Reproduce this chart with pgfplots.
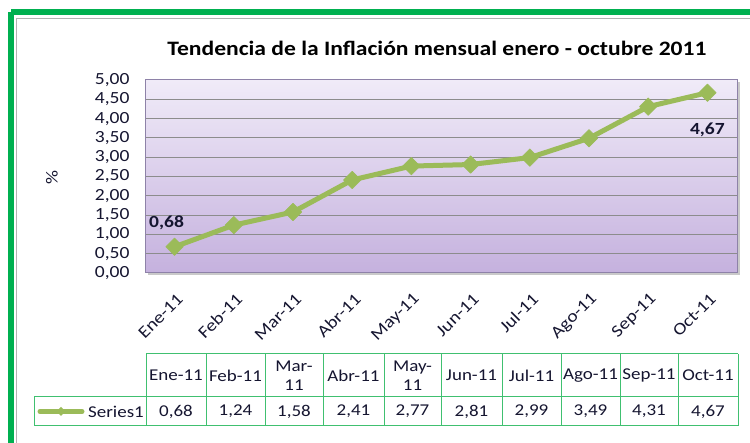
\documentclass[border=0pt]{standalone}
\usepackage{pgfplots}
\pgfplotsset{compat=1.18}
\usepackage{fontspec}
\setmainfont{Carlito}[FakeStretch=1.15]
\usetikzlibrary{shadows}
\definecolor{lineg}{HTML}{9BBB59}
\definecolor{frameg}{HTML}{00B050}
\definecolor{tabg}{HTML}{40C070}
\definecolor{bgtop}{HTML}{F0EBF8}
\definecolor{bgbot}{HTML}{C5B1DE}
\definecolor{axbord}{HTML}{8E82A8}
\definecolor{txt}{HTML}{151530}
\begin{document}
\begin{tikzpicture}[x=1pt,y=1pt]
\useasboundingbox (0,0) rectangle (750,443);
\begin{scope}
\clip (0,0) rectangle (750,443);
\fill[white] (0,0) rectangle (750,443);
\draw[frameg, line width=5.5pt] (11,431) -- (780,431);
\draw[frameg, line width=5.5pt] (11,431) -- (11,-20);
\draw[black!30, line width=1pt] (16.5,-20) -- (16.5,424.5) -- (780,424.5);
\end{scope}
\node[font=\bfseries\fontsize{20.5}{24}\selectfont, text=black] at (437,395) {Tendencia de la Inflación mensual enero - octubre 2011};
\node[rotate=90, font=\fontsize{17}{20}\selectfont, text=txt] at (52,265) {\%};
\begin{axis}[
  at={(145pt,170pt)}, anchor=south west, scale only axis,
  width=592pt, height=193pt,
  xmin=-0.5, xmax=9.5, ymin=0, ymax=5,
  ytick={0,0.5,1,1.5,2,2.5,3,3.5,4,4.5,5},
  xtick={0,1,2,3,4,5,6,7,8,9},
  xticklabels={Ene-11,Feb-11,Mar-11,Abr-11,May-11,Jun-11,Jul-11,Ago-11,Sep-11,Oct-11},
  /pgf/number format/assume math mode=true,
  yticklabel style={/pgf/number format/fixed, /pgf/number format/fixed zerofill, /pgf/number format/precision=2, /pgf/number format/use comma, font=\fontsize{17}{20}\selectfont, text=txt, xshift=-12pt},
  xticklabel style={font=\fontsize{17}{20}\selectfont, text=txt, xshift=8pt, yshift=-21pt, rotate=45, anchor=east},
  major tick length=0pt,
  axis line style={axbord, line width=1pt},
  axis background/.style={top color=bgtop, bottom color=bgbot, drop shadow={shadow xshift=2.5pt, shadow yshift=-2.5pt, opacity=0.35, fill=black!60}},
  ymajorgrids, grid style={draw=black!45, line width=1pt},
  clip=false,
]
\addplot[lineg, line width=5pt, line join=round, mark=square*, mark size=6.2pt, mark options={rotate=45, fill=lineg, draw=lineg, line width=0.5pt}] coordinates {(0,0.68)(1,1.24)(2,1.58)(3,2.41)(4,2.77)(5,2.81)(6,2.99)(7,3.49)(8,4.31)(9,4.67)};
\node[font=\bfseries\fontsize{17}{20}\selectfont, text=txt, xshift=-8pt, yshift=24pt] at (axis cs:0,0.68) {0,68};
\node[font=\bfseries\fontsize{17}{20}\selectfont, text=txt, yshift=-37pt] at (axis cs:9,4.67) {4,67};
\end{axis}
\begin{scope}[draw=tabg, line width=1pt]
\draw (146,89) -- (738,89);
\draw (34,46) -- (738,46);
\draw (34,17) -- (738,17);
\foreach \x in {146,206,265,323,384,441,502,561,620,678,738} \draw (\x,89) -- (\x,17);
\draw (34,46) -- (34,17);
\end{scope}
\foreach \x/\t in {176/Ene-11,235.5/Feb-11,294/{Mar-\\11},353.5/Abr-11,412.5/{May-\\11},471.5/Jun-11,531.5/Jul-11,590.5/Ago-11,649/Sep-11,708/Oct-11}
  \node[font=\fontsize{16.5}{19}\selectfont, text=txt, align=center, inner sep=0pt] at (\x,67.5) {\t};
\foreach \x/\t in {176/{0,68},235.5/{1,24},294/{1,58},353.5/{2,41},412.5/{2,77},471.5/{2,81},531.5/{2,99},590.5/{3,49},649/{4,31},708/{4,67}}
  \node[font=\fontsize{16.5}{19}\selectfont, text=txt, inner sep=0pt] at (\x,31.5) {\t};
\draw[lineg, line width=5pt, line cap=round] (40,31.5) -- (82,31.5);
\fill[lineg] (61,36) -- (65.5,31.5) -- (61,27) -- (56.5,31.5) -- cycle;
\node[font=\fontsize{16.5}{19}\selectfont, text=txt, anchor=east, inner sep=0pt] at (144,31.5) {Series1};
\end{tikzpicture}
\end{document}
